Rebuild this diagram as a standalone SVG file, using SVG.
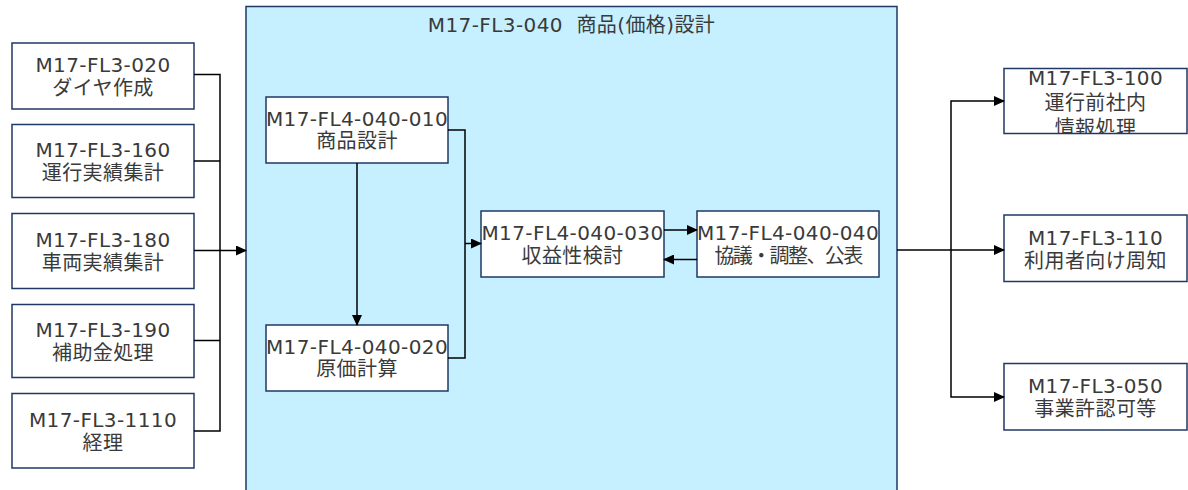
<svg xmlns="http://www.w3.org/2000/svg" width="1188" height="490" viewBox="0 0 1188 490">
<style>
.box{fill:#ffffff;stroke:#1f3864;stroke-width:1.5}
.cont{fill:#c6f0ff;stroke:#1f3864;stroke-width:1.5}
.t{font-family:"DejaVu Sans","Noto Sans CJK JP",sans-serif;font-size:20px;fill:#3a3a3a;text-anchor:middle;letter-spacing:0.4px}
.c{fill:none;stroke:#000000;stroke-width:1.5}
.a{marker-end:url(#arr)}
</style>
<defs>
<marker id="arr" markerUnits="userSpaceOnUse" markerWidth="11" markerHeight="10" refX="10" refY="5" orient="auto">
<path d="M0,0 L11,5 L0,10 z" fill="#000"/>
</marker>
<clipPath id="clip100"><rect x="1004" y="68" width="183" height="65"/></clipPath>
</defs>

<g id="container">
<rect class="cont" x="246" y="6.5" width="651" height="490"/>
<text class="t" x="571.5" y="32" xml:space="preserve">M17-FL3-040  商品(価格)設計</text>
</g>

<g id="n020"><rect class="box" x="12" y="43" width="182" height="66"/>
<text class="t" x="103" y="72">M17-FL3-020</text><text class="t" x="103" y="95">ダイヤ作成</text></g>
<g id="n160"><rect class="box" x="12" y="124.5" width="182" height="73"/>
<text class="t" x="103" y="157">M17-FL3-160</text><text class="t" x="103" y="180">運行実績集計</text></g>
<g id="n180"><rect class="box" x="12" y="213.5" width="182" height="75"/>
<text class="t" x="103" y="247">M17-FL3-180</text><text class="t" x="103" y="270">車両実績集計</text></g>
<g id="n190"><rect class="box" x="12" y="304.5" width="182" height="73"/>
<text class="t" x="103" y="337">M17-FL3-190</text><text class="t" x="103" y="360">補助金処理</text></g>
<g id="n1110"><rect class="box" x="12" y="393.5" width="182" height="74.5"/>
<text class="t" x="103" y="427">M17-FL3-1110</text><text class="t" x="103" y="450">経理</text></g>

<g id="n4010"><rect class="box" x="266" y="97" width="182" height="66"/>
<text class="t" x="357" y="126">M17-FL4-040-010</text><text class="t" x="357" y="148">商品設計</text></g>
<g id="n4020"><rect class="box" x="266" y="325" width="182" height="66"/>
<text class="t" x="357" y="354">M17-FL4-040-020</text><text class="t" x="357" y="376">原価計算</text></g>
<g id="n4030"><rect class="box" x="481" y="211" width="183" height="66"/>
<text class="t" x="572.5" y="240">M17-FL4-040-030</text><text class="t" x="572.5" y="263">収益性検討</text></g>
<g id="n4040"><rect class="box" x="697" y="211" width="182" height="66"/>
<text class="t" x="788" y="240">M17-FL4-040-040</text><text class="t" x="788" y="263" style="letter-spacing:-1.6px">協議・調整、公表</text></g>

<g id="n100"><rect class="box" x="1004" y="68.5" width="183" height="65"/>
<g clip-path="url(#clip100)"><text class="t" x="1095.5" y="84.5">M17-FL3-100</text><text class="t" x="1095.5" y="109.5">運行前社内</text><text class="t" x="1095.5" y="134.5">情報処理</text></g></g>
<g id="n110"><rect class="box" x="1004" y="215" width="183" height="66.5"/>
<text class="t" x="1095.5" y="245">M17-FL3-110</text><text class="t" x="1095.5" y="268">利用者向け周知</text></g>
<g id="n050"><rect class="box" x="1004" y="363.5" width="183" height="66.5"/>
<text class="t" x="1095.5" y="393">M17-FL3-050</text><text class="t" x="1095.5" y="416">事業許認可等</text></g>

<g id="connectors">
<path class="c" d="M194,74.5 H220 V431 H194 M194,161 H220 M194,340.5 H220"/>
<path class="c a" d="M194,250.5 H246"/>
<path class="c a" d="M357,163 V325"/>
<path class="c" d="M448,130 H465 V358 H448"/>
<path class="c a" d="M465,243.5 H481"/>
<path class="c a" d="M664,230 H697"/>
<path class="c a" d="M697,259.5 H664"/>
<path class="c a" d="M897,250 H1004"/>
<path class="c a" d="M951,250 V101 H1004"/>
<path class="c a" d="M951,250 V397 H1004"/>
</g>
</svg>
